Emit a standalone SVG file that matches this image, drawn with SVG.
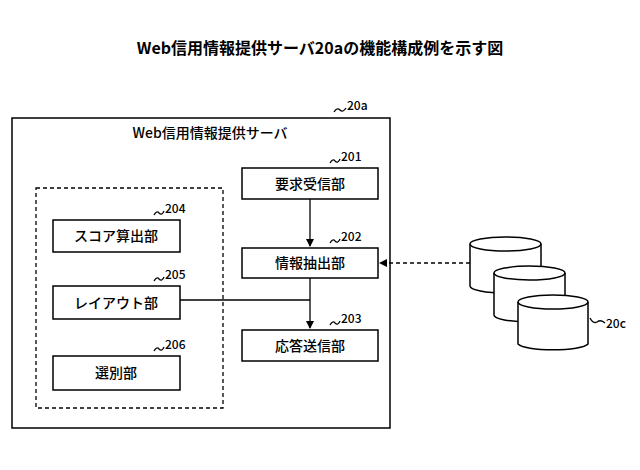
<svg xmlns="http://www.w3.org/2000/svg" width="640" height="470" viewBox="0 0 640 470">
<defs>
<style>
text{font-family:"Noto Sans CJK JP","Liberation Sans",sans-serif;fill:#000;font-weight:500}
.b{fill:#fff;stroke:#000;stroke-width:1.5}
.t{font-size:14px;text-anchor:middle}
.n{font-size:12px}
.l{fill:none;stroke:#000;stroke-width:1.3}
</style>
<marker id="a" markerWidth="8" markerHeight="8" refX="7" refY="4" orient="auto" markerUnits="userSpaceOnUse"><path d="M0,0L8,4L0,8z"/></marker>
</defs>
<rect width="640" height="470" fill="#fff"/>
<text x="320" y="54" font-size="16" text-anchor="middle" style="font-weight:bold">Web信用情報提供サーバ20aの機能構成例を示す図</text>
<g id="server">
<rect class="b" x="12" y="118" width="378" height="310"/>
<text x="210" y="138" class="t">Web信用情報提供サーバ</text>
<path class="l" d="M334,112q3,-5 6,-2q3,3 6,-2"/><text x="347" y="110" class="n">20a</text>
</g>
<g id="group"><rect x="36" y="188" width="187" height="220" fill="none" stroke="#000" stroke-width="1.3" stroke-dasharray="4,3"/></g>
<g id="n201"><rect class="b" x="242" y="168" width="136" height="31"/><text x="310" y="189" class="t">要求受信部</text>
<path class="l" d="M330,163q3,-5 5,-2q3,3 5,-2"/><text x="341" y="161" class="n">201</text></g>
<g id="n202"><rect class="b" x="242" y="248" width="136" height="30"/><text x="310" y="268" class="t">情報抽出部</text>
<path class="l" d="M330,243q3,-5 5,-2q3,3 5,-2"/><text x="341" y="241" class="n">202</text></g>
<g id="n203"><rect class="b" x="242" y="330" width="136" height="31"/><text x="310" y="351" class="t">応答送信部</text>
<path class="l" d="M330,325q3,-5 5,-2q3,3 5,-2"/><text x="341" y="323" class="n">203</text></g>
<g id="n204"><rect class="b" x="53" y="220" width="127" height="32"/><text x="116" y="241" class="t">スコア算出部</text>
<path class="l" d="M154,215q3,-5 5,-2q3,3 5,-2"/><text x="165" y="213" class="n">204</text></g>
<g id="n205"><rect class="b" x="53" y="286" width="127" height="33"/><text x="116" y="308" class="t">レイアウト部</text>
<path class="l" d="M154,281q3,-5 5,-2q3,3 5,-2"/><text x="165" y="279" class="n">205</text></g>
<g id="n206"><rect class="b" x="53" y="356" width="127" height="34"/><text x="116" y="378" class="t">選別部</text>
<path class="l" d="M154,351q3,-5 5,-2q3,3 5,-2"/><text x="165" y="349" class="n">206</text></g>
<g id="db">
<path class="b" d="M470,244v42a35.5,7 0 0 0 71,0v-42"/><ellipse class="b" cx="505.5" cy="244" rx="35.5" ry="7"/>
<path class="b" d="M494,273v42a35.5,7 0 0 0 71,0v-42"/><ellipse class="b" cx="529.5" cy="273" rx="35.5" ry="7"/>
<path class="b" d="M518,302v42a35.5,7 0 0 0 70,0v-42"/><ellipse class="b" cx="553" cy="302" rx="35" ry="7"/>
<path class="l" d="M590,318q3,6 7,4q4,-3 8,1"/><text x="606" y="328" class="n" font-size="13">20c</text>
</g>
<g id="connectors">
<path class="l" d="M310,199V246" marker-end="url(#a)"/>
<path class="l" d="M310,278V328" marker-end="url(#a)"/>
<path class="l" d="M180,300H310"/>
<path class="l" d="M470,263H380" stroke-dasharray="4,3" marker-end="url(#a)"/>
</g>
</svg>
